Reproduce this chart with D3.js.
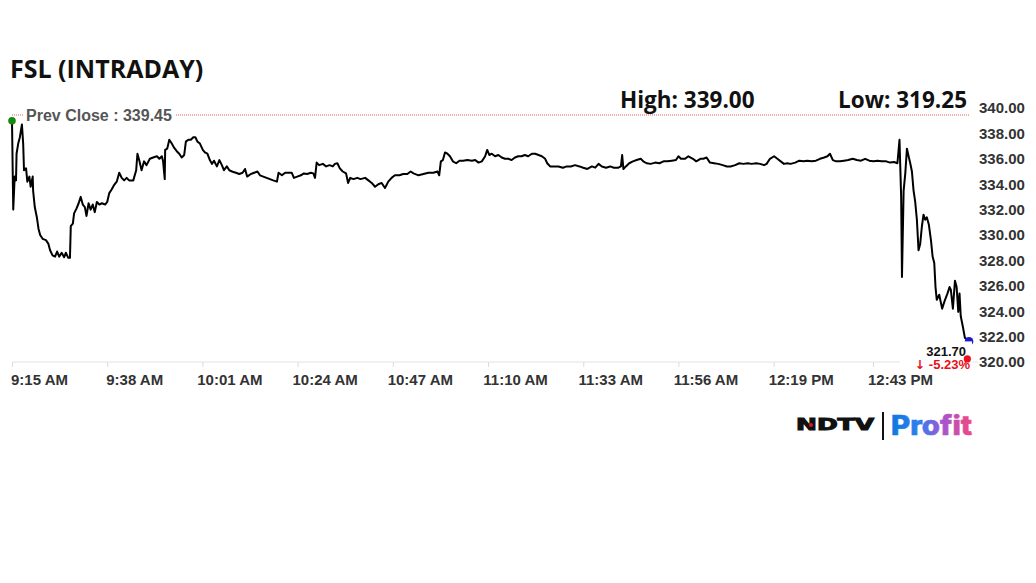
<!DOCTYPE html>
<html>
<head>
<meta charset="utf-8">
<script src="https://cdn.jsdelivr.net/npm/d3@7/dist/d3.min.js"></script>
<style>
  html, body { margin: 0; padding: 0; background: #fff; }
  svg { display: block; }
</style>
</head>
<body>
<svg id="chart" width="1036" height="583"></svg>
<script>
// ---------- DATA ----------
const title = "FSL (INTRADAY)";
const prevClose = 339.45;
const dayHigh = 339.00;
const dayLow = 319.25;
const lastPrice = 321.70;
const changePct = -5.23;

// minutes after 9:15 AM
const minutes = [
  0,0.3,0.65,0.97,1.1,1.5,1.9,2.4,2.7,2.9,3.4,3.7,4.2,4.5,5.0,5.1,5.5,6.0,6.4,6.8,
  7.4,8.2,8.8,9.2,9.8,10.4,10.9,11.4,12.0,12.6,13.0,13.6,14.0,14.2,14.7,15.0,15.6,16.1,16.6,17.1,
  17.6,18.0,18.5,19.0,19.5,20.0,20.5,21.1,21.7,22.5,23.0,23.5,24.1,24.6,25.3,25.9,26.5,27.1,27.7,28.3,
  29.3,30.0,30.3,30.8,31.3,31.9,32.5,33.3,34.1,35.0,35.6,36.2,36.5,36.9,37.0,37.5,38.0,38.6,39.1,39.8,
  40.4,41.0,41.6,42.0,42.6,43.2,43.8,44.3,44.8,45.4,46.1,46.6,47.2,47.8,48.3,48.8,49.5,50.1,50.7,51.2,
  51.9,52.5,53.3,54.1,54.9,55.7,56.3,56.8,57.7,58.5,59.3,59.9,60.7,61.5,62.3,63.1,64.0,64.4,65.2,66.0,
  66.8,67.6,68.1,68.9,69.8,70.5,71.3,72.2,72.8,73.2,73.6,74.2,75.1,75.9,76.7,77.5,78.0,78.6,79.2,79.9,
  80.7,81.2,81.7,82.5,83.4,84.2,85.3,86.1,86.9,87.7,88.5,89.3,90.1,90.9,91.7,92.5,93.6,94.5,95.5,96.3,
  97.0,98.2,99.4,100.6,101.8,102.8,103.2,103.6,104.1,104.6,105.2,105.8,106.5,107.3,108.1,109.0,110.0,111.1,111.9,112.7,
  113.5,114.3,114.8,115.3,115.9,116.7,117.5,118.3,119.1,119.9,120.7,121.5,122.3,123.1,123.9,124.7,125.6,126.4,127.2,128.0,
  128.8,129.3,130.0,130.9,132.0,133.1,134.0,135.0,136.0,137.1,138.0,139.0,140.1,140.9,141.7,142.5,143.5,144.5,145.4,146.5,
  147.1,147.4,147.7,148.3,149.1,150.0,150.9,151.9,152.5,153.3,154.3,155.4,156.4,157.4,158.3,159.4,160.4,161.0,161.6,162.6,
  163.4,164.5,165.3,166.3,167.0,167.8,168.6,169.6,170.6,171.7,172.7,173.6,174.7,175.7,176.7,177.7,178.7,179.8,180.7,181.7,
  182.3,183.1,184.1,184.9,185.7,186.5,187.3,188.1,189.2,190.2,191.2,192.1,193.2,194.2,195.2,196.2,197.0,197.6,198.3,199.1,
  200.0,201.0,202.0,203.1,204.1,205.1,206.1,207.1,208.1,209.1,210.1,211.2,212.1,213.1,213.9,214.4,214.8,215.0,215.4,215.8,
  216.2,216.6,217.0,217.4,217.8,218.2,218.6,219.0,219.4,219.8,220.2,220.6,221.0,221.5,222.0,222.4,222.8,223.1,223.4,224.0,
  224.7,225.4,226.0,226.5,226.8,227.3,227.8,228.2,228.6,228.9,229.2,229.7,230.2,231.2
];
const prices = [
  339.0,332.0,334.6,334.3,336.4,337.2,337.7,338.7,337.2,335.1,335.25,334.2,334.6,333.8,334.6,333.5,332.2,331.4,330.5,330.0,
  329.7,329.6,329.3,328.8,328.4,328.3,328.7,328.3,328.6,328.25,328.6,328.2,328.2,330.7,330.9,331.7,332.1,332.5,333.0,332.4,
  332.2,331.5,332.5,332.0,332.4,331.8,332.6,332.4,332.5,332.4,332.6,333.3,333.6,333.9,334.2,334.9,334.5,334.3,334.5,334.3,
  334.3,335.1,336.4,335.8,335.1,335.8,335.5,336.0,336.1,336.2,336.0,336.2,335.8,334.4,336.7,336.8,337.5,337.2,336.9,336.6,
  336.4,336.1,336.3,337.35,337.5,337.5,337.7,337.7,337.35,337.2,336.7,336.5,336.4,335.9,335.6,335.85,335.4,335.9,335.5,335.1,
  335.4,335.1,334.98,334.9,334.8,334.9,335.2,334.6,334.8,334.9,335.0,334.7,334.6,334.5,334.4,334.3,334.2,334.9,334.7,334.9,
  334.9,334.9,334.5,334.6,334.7,334.85,334.8,334.9,334.85,334.5,335.7,335.5,335.6,335.4,335.5,335.4,335.6,335.65,335.25,335.0,
  334.85,334.1,334.5,334.4,334.5,334.4,334.5,334.3,334.1,333.8,334.0,334.1,333.7,334.2,334.5,334.7,334.7,334.8,334.8,335.0,
  334.85,334.7,334.8,334.9,334.9,335.0,334.7,335.8,335.9,336.5,336.4,336.2,335.8,335.65,335.85,335.85,335.9,335.85,335.9,335.7,
  335.8,336.2,336.7,336.3,336.4,336.2,336.3,336.1,336.0,336.0,335.9,336.1,336.2,336.2,336.3,336.2,336.4,336.4,336.3,336.2,
  336.0,335.65,335.4,335.4,335.4,335.3,335.4,335.4,335.5,335.4,335.3,335.2,335.4,335.3,335.6,335.4,335.3,335.4,335.3,335.3,
  335.4,336.3,335.2,335.4,335.65,335.8,335.9,336.0,335.8,335.65,335.6,335.7,335.65,335.8,335.8,335.85,335.9,336.2,336.0,336.0,
  336.2,336.0,335.8,336.0,336.0,336.1,335.7,335.65,335.6,335.5,335.4,335.4,335.5,335.65,335.6,335.65,335.6,335.65,335.6,335.5,
  335.6,336.0,336.2,336.0,335.8,335.6,335.65,335.6,335.7,335.85,335.8,335.85,335.8,335.85,336.0,336.1,336.2,336.4,335.9,335.8,
  335.8,335.85,335.9,336.0,335.9,335.85,336.0,335.85,335.8,335.85,335.8,335.8,335.7,335.75,335.65,337.5,333.0,326.7,333.5,334.85,
  336.8,336.2,335.65,335.0,333.5,332.6,331.2,328.8,329.3,330.65,331.6,331.2,331.4,330.8,329.6,328.3,327.8,325.9,324.9,325.3,
  324.2,324.9,325.4,325.9,325.7,324.2,326.4,325.9,323.95,325.4,323.6,322.8,321.9,321.7
];

const timeTickMinutes = [0, 23, 46, 69, 92, 115, 138, 161, 184, 208];
const timeTickLabels = ["9:15 AM","9:38 AM","10:01 AM","10:24 AM","10:47 AM","11:10 AM","11:33 AM","11:56 AM","12:19 PM","12:43 PM"];
const priceTicks = [320, 322, 324, 326, 328, 330, 332, 334, 336, 338, 340];

// ---------- CHART ----------
const svg = d3.select("#chart");
const data = minutes.map((m, i) => ({ m, p: prices[i] }));

const x = d3.scaleLinear().domain([0, 208]).range([12, 873]);
const y = d3.scaleLinear().domain([320, 340]).range([362, 108]);

const lastM = minutes[minutes.length - 1];
const xEnd = x(lastM);

// title
svg.append("text")
  .attr("x", 10).attr("y", 78)
  .attr("font-family", "'Open Sans', sans-serif")
  .attr("font-weight", 700).attr("font-size", 25)
  .attr("fill", "#111")
  .text(title);

// high / low
svg.append("text")
  .attr("x", 620).attr("y", 108)
  .attr("font-family", "'Open Sans', sans-serif")
  .attr("font-weight", 700).attr("font-size", 22.5)
  .attr("fill", "#111")
  .text("High: " + dayHigh.toFixed(2));
svg.append("text")
  .attr("x", 967).attr("y", 108)
  .attr("text-anchor", "end")
  .attr("font-family", "'Open Sans', sans-serif")
  .attr("font-weight", 700).attr("font-size", 22.5)
  .attr("fill", "#111")
  .text("Low: " + dayLow.toFixed(2));

// bottom axis baseline
svg.append("line")
  .attr("x1", x(0)).attr("x2", 978)
  .attr("y1", y(320)).attr("y2", y(320))
  .attr("stroke", "#e3e3e3").attr("stroke-width", 1);

// x axis
const xAxis = d3.axisBottom(x)
  .tickValues(timeTickMinutes)
  .tickFormat((d, i) => timeTickLabels[i])
  .tickSize(5).tickSizeOuter(0);
const gx = svg.append("g").attr("transform", `translate(0,${y(320)})`).call(xAxis);
gx.select(".domain").remove();
gx.selectAll(".tick line").attr("stroke", "#dcdcdc");
gx.selectAll(".tick text")
  .attr("x", 27).attr("y", 23).attr("dy", 0)
  .attr("text-anchor", "middle")
  .attr("font-family", "'Liberation Sans', Arial, sans-serif")
  .attr("font-weight", 700).attr("font-size", 15)
  .attr("fill", "#333");

// y axis (right)
const yAxis = d3.axisRight(y)
  .tickValues(priceTicks)
  .tickFormat(d3.format(".2f"))
  .tickSize(0).tickPadding(0);
const gy = svg.append("g").attr("transform", "translate(979,0)").call(yAxis);
gy.select(".domain").remove();
gy.selectAll(".tick text")
  .attr("font-family", "'Liberation Sans', Arial, sans-serif")
  .attr("font-weight", 700).attr("font-size", 15)
  .attr("fill", "#333");

// prev close line
svg.append("line")
  .attr("x1", x(0)).attr("x2", xEnd + 1)
  .attr("y1", y(prevClose)).attr("y2", y(prevClose))
  .attr("stroke", "#e06060").attr("stroke-width", 1)
  .attr("stroke-dasharray", "1,1");

// prev close label
const pcText = svg.append("text")
  .attr("x", 26).attr("y", y(prevClose) + 6)
  .attr("font-family", "'Liberation Sans', Arial, sans-serif")
  .attr("font-weight", 700).attr("font-size", 16)
  .attr("fill", "#555")
  .text("Prev Close : " + prevClose.toFixed(2));
const pcBox = pcText.node().getBBox();
svg.insert("rect", () => pcText.node())
  .attr("x", pcBox.x - 3).attr("y", pcBox.y)
  .attr("width", pcBox.width + 6).attr("height", pcBox.height)
  .attr("fill", "#fff");

// price line
const line = d3.line().x(d => x(d.m)).y(d => y(d.p));
svg.append("path")
  .datum(data)
  .attr("d", line)
  .attr("fill", "none")
  .attr("stroke", "#000")
  .attr("stroke-width", 2)
  .attr("stroke-linejoin", "round");

// start dot
svg.append("circle")
  .attr("cx", x(data[0].m)).attr("cy", y(data[0].p))
  .attr("r", 3.8).attr("fill", "#138a13");

// end dot (blue)
svg.append("circle")
  .attr("cx", xEnd).attr("cy", y(lastPrice) + 1)
  .attr("r", 4.3).attr("fill", "#1a1acc");

// end label with white background
const endG = svg.append("g");
endG.append("rect")
  .attr("x", xEnd - 69).attr("y", y(lastPrice) + 1)
  .attr("width", 72).attr("height", 30)
  .attr("fill", "#fff");
endG.append("text")
  .attr("x", xEnd - 3).attr("y", y(lastPrice) + 15.3)
  .attr("text-anchor", "end")
  .attr("font-family", "'Liberation Sans', Arial, sans-serif")
  .attr("font-weight", 700).attr("font-size", 13)
  .attr("fill", "#111")
  .text(lastPrice.toFixed(2));
const chg = endG.append("text")
  .attr("x", xEnd + 1).attr("y", y(lastPrice) + 28.3)
  .attr("text-anchor", "end")
  .attr("font-family", "'Liberation Sans', Arial, sans-serif")
  .attr("font-weight", 700).attr("font-size", 13)
  .attr("fill", "#e8101a");
chg.append("tspan")
  .attr("font-family", "'DejaVu Sans', sans-serif")
  .attr("font-size", 12.5)
  .text("\u2193");
chg.append("tspan").text(" " + changePct.toFixed(2) + "%");
endG.append("circle")
  .attr("cx", xEnd - 1.7).attr("cy", y(lastPrice) + 18.5)
  .attr("r", 3.6).attr("fill", "#e8101a");

// logo
const logo = svg.append("g");
logo.append("text")
  .attr("x", 796).attr("y", 430)
  .attr("font-family", "'DejaVu Sans', sans-serif")
  .attr("font-weight", 700).attr("font-size", 15)
  .attr("textLength", 78).attr("lengthAdjust", "spacingAndGlyphs")
  .attr("fill", "#111")
  .attr("stroke", "#111").attr("stroke-width", 1)
  .text("NDTV");
logo.append("circle")
  .attr("cx", 811).attr("cy", 425).attr("r", 2)
  .attr("fill", "#e8101a");
logo.append("line")
  .attr("x1", 883).attr("x2", 883).attr("y1", 412).attr("y2", 440)
  .attr("stroke", "#111").attr("stroke-width", 2);
const defs = svg.append("defs");
const grad = defs.append("linearGradient")
  .attr("id", "profitGrad")
  .attr("gradientUnits", "userSpaceOnUse")
  .attr("x1", 891).attr("x2", 972).attr("y1", 0).attr("y2", 0);
grad.append("stop").attr("offset", "0%").attr("stop-color", "#0f78e0");
grad.append("stop").attr("offset", "35%").attr("stop-color", "#2f80ea");
grad.append("stop").attr("offset", "62%").attr("stop-color", "#a055d6");
grad.append("stop").attr("offset", "100%").attr("stop-color", "#f2487f");
logo.append("text")
  .attr("x", 891).attr("y", 435)
  .attr("font-family", "Inter, 'Open Sans', sans-serif")
  .attr("font-weight", 800).attr("font-size", 27)
  .attr("textLength", 81).attr("lengthAdjust", "spacingAndGlyphs")
  .attr("fill", "url(#profitGrad)")
  .attr("stroke", "url(#profitGrad)").attr("stroke-width", 0.6)
  .text("Profit");
</script>
</body>
</html>
